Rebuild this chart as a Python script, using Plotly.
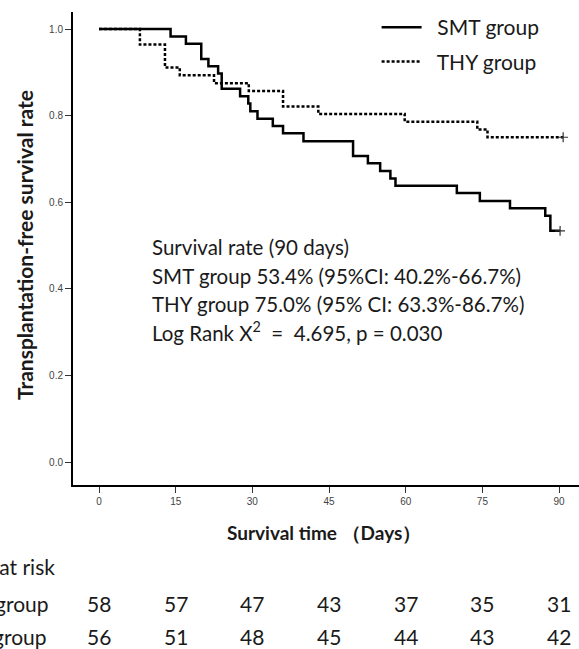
import plotly.graph_objects as go

# ---- data ----
smt_days = [0, 14, 17, 20, 21.4, 23.3, 24, 27.6, 29.2, 29.6, 31, 34, 36, 40,
            49.7, 52.6, 55, 57, 58, 70, 74.5, 80.4, 87.3, 88.3, 90.2]
smt_surv = [1.0, 0.983, 0.966, 0.931, 0.914, 0.897, 0.862, 0.845, 0.828, 0.810,
            0.793, 0.776, 0.759, 0.741, 0.707, 0.690, 0.672, 0.655, 0.638,
            0.621, 0.603, 0.586, 0.569, 0.534, 0.534]

thy_days = [0, 8, 12.9, 15.8, 22.5, 29.3, 36, 42.9, 59.8, 74, 76, 90.8]
thy_surv = [1.0, 0.964, 0.911, 0.893, 0.875, 0.857, 0.821, 0.804, 0.786,
            0.768, 0.750, 0.750]

x_ticks = [0, 15, 30, 45, 60, 75, 90]
y_ticks = [0.0, 0.2, 0.4, 0.6, 0.8, 1.0]

risk_days = [0, 15, 30, 45, 60, 75, 90]
smt_risk = [58, 57, 47, 43, 37, 35, 31]
thy_risk = [56, 51, 48, 45, 44, 43, 42]

stat_lines = [
    "Survival rate (90 days)",
    "SMT group 53.4% (95%CI: 40.2%-66.7%)",
    "THY group 75.0% (95% CI: 63.3%-86.7%)",
    "Log Rank X<sup>2</sup>  =  4.695, p = 0.030",
]

FONT = "Lato, 'Noto Sans', sans-serif"
TXT = "#1a1a1a"

# plot-area geometry helpers (pixels -> paper)
L, T, W, H = 73, 12, 506, 473
def px(x):
    return (x - L) / W
def py(y):
    return (T + H - y) / H

NB = "\u00a0\u00a0"

fig = go.Figure()
fig.add_trace(go.Scatter(
    x=smt_days, y=smt_surv, mode="lines", line_shape="hv",
    line=dict(color="black", width=2.5), name=NB + "SMT group", legendgroup="a"))
fig.add_trace(go.Scatter(
    x=thy_days, y=thy_surv, mode="lines", line_shape="hv",
    line=dict(color="black", width=2.5, dash="3px,2px"), name=NB + "THY group",
    legendgroup="b"))
# censor marks at the ends
fig.add_trace(go.Scatter(
    x=[smt_days[-1], thy_days[-1]], y=[smt_surv[-1], thy_surv[-1]],
    mode="markers", showlegend=False,
    marker=dict(symbol="cross-thin", size=7, line=dict(color="#333", width=1.2))))

ann = []
for i, t in enumerate(stat_lines):
    ann.append(dict(x=px(150), y=py([247, 276, 304, 331][i]), xref="paper", yref="paper",
                    text=t, showarrow=False, xanchor="left", yanchor="middle",
                    font=dict(family=FONT, size=20.5, color=TXT)))
# axis titles
ann.append(dict(x=px(324), y=py(532), xref="paper", yref="paper",
                text="<b>Survival time （Days）</b>", showarrow=False,
                xanchor="center", yanchor="middle",
                font=dict(family=FONT, size=19, color=TXT)))
ann.append(dict(x=px(24), y=py(245), xref="paper", yref="paper", textangle=-90,
                text="<b>Transplantation-free survival rate</b>", showarrow=False,
                xanchor="center", yanchor="middle",
                font=dict(family=FONT, size=21, color=TXT)))
# at risk table
for d, a, b in zip(risk_days, smt_risk, thy_risk):
    ann.append(dict(x=d, y=py(603), xref="x", yref="paper", text=str(a), showarrow=False,
                    xanchor="center", yanchor="middle",
                    font=dict(family=FONT, size=21, color=TXT)))
    ann.append(dict(x=d, y=py(636), xref="x", yref="paper", text=str(b), showarrow=False,
                    xanchor="center", yanchor="middle",
                    font=dict(family=FONT, size=21, color=TXT)))
ann.append(dict(x=px(57), y=py(566), xref="paper", yref="paper", text="Number at risk",
                showarrow=False, xanchor="right", yanchor="middle",
                font=dict(family=FONT, size=21, color=TXT)))
ann.append(dict(x=px(51), y=py(603), xref="paper", yref="paper", text="SMT group",
                showarrow=False, xanchor="right", yanchor="middle",
                font=dict(family=FONT, size=21, color=TXT)))
ann.append(dict(x=px(49), y=py(636), xref="paper", yref="paper", text="THY group",
                showarrow=False, xanchor="right", yanchor="middle",
                font=dict(family=FONT, size=21, color=TXT)))

fig.update_layout(
    width=579, height=649,
    margin=dict(l=L, r=579 - L - W, t=T, b=649 - T - H),
    paper_bgcolor="white", plot_bgcolor="white",
    annotations=ann,
    showlegend=True,
    legend=dict(x=0.6, y=1.0106, xanchor="left", yanchor="top",
                bgcolor="rgba(0,0,0,0)", tracegroupgap=4,
                itemwidth=40,
                font=dict(family=FONT, size=21, color=TXT)),
    xaxis=dict(range=[-5.09, 93.9], tickvals=x_ticks, ticktext=[str(v) for v in x_ticks],
               showline=True, linecolor="black", linewidth=2, showgrid=False,
               zeroline=False, ticks="outside", ticklen=6, tickcolor="#333",
               automargin=False,
               tickfont=dict(family="Liberation Sans", size=10, color="#444")),
    yaxis=dict(range=[-0.0531, 1.0393], tickvals=y_ticks, ticktext=[f"{v:.1f}" for v in y_ticks],
               showline=True, linecolor="black", linewidth=2, showgrid=False,
               zeroline=False, ticks="outside", ticklen=6, tickcolor="#333",
               automargin=False,
               tickfont=dict(family="Liberation Sans", size=10, color="#444")),
)

fig.write_html("out.html", config={"displayModeBar": False},
               post_script="document.body.style.margin='0';document.body.style.overflow='hidden';")
